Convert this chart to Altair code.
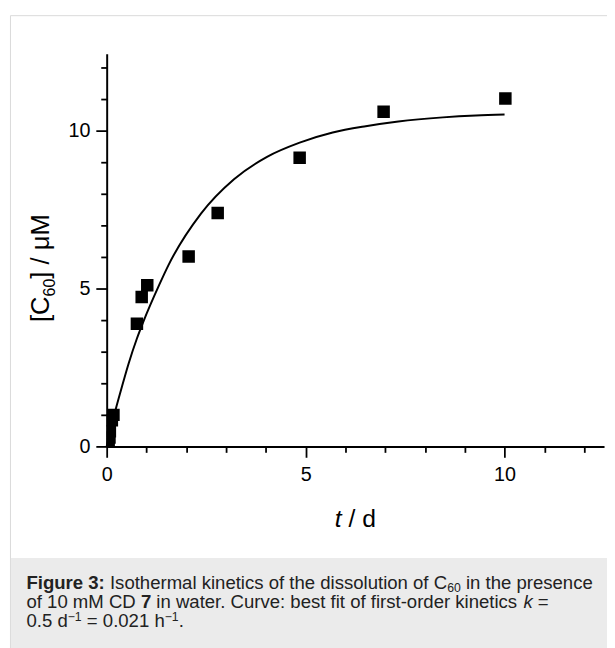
import altair as alt
import pandas as pd

# ---- data ----
t_obs = [0.05, 0.07, 0.08, 0.13, 0.17, 0.76, 0.88, 1.02, 2.06, 2.79, 4.85, 6.96, 10.02]
c_obs = [0.08, 0.28, 0.48, 0.83, 1.00, 3.89, 4.74, 5.11, 6.02, 7.40, 9.15, 10.61, 11.03]

t_fit = [0, 0.18, 0.39, 0.55, 0.76, 0.93, 1.32, 1.55, 2.37, 3.2, 4.03, 4.85, 5.68, 6.51, 7.33, 8.45, 9.28, 10.0]
c_fit = [0, 0.95, 1.92, 2.62, 3.42, 3.98, 5.12, 5.74, 7.38, 8.47, 9.18, 9.63, 9.95, 10.15, 10.30, 10.43, 10.49, 10.52]

x_ticks = list(range(0, 13))
y_ticks = list(range(0, 13))
x_domain = [0, 12.5]
y_domain = [0, 12.45]

FONT = "Liberation Sans"
W, H = 504, 398

obs_df = pd.DataFrame({"t": t_obs, "c": c_obs})
fit_df = pd.DataFrame({"t": t_fit, "c": c_fit})

major = "datum.value % 5 === 0"


def make_axis(vals, pad):
    return alt.Axis(
        values=vals,
        labelExpr=f"{major} ? datum.label : ''",
        tickSize={"condition": {"test": major, "value": 11}, "value": 6},
        tickWidth=1.8,
        tickColor="black",
        domainColor="black",
        domainWidth=2,
        labelFont=FONT,
        labelFontSize=20,
        labelColor="black",
        labelPadding=pad,
        labelFlush=False,
        labelOverlap=False,
        grid=False,
        title=None,
        zindex=1,
    )


x_axis = make_axis(x_ticks, 8)
y_axis = make_axis(y_ticks, 6)
xs = alt.Scale(domain=x_domain, nice=False, zero=False)
ys = alt.Scale(domain=y_domain, nice=False, zero=False)

one = alt.Data(values=[{"k": 1}])

frame = alt.Chart(one).mark_rect(fill="white", stroke="#d9d9d9", strokeWidth=1).encode(
    x=alt.value(-97.5), x2=alt.value(900), y=alt.value(-38.5), y2=alt.value(900)
)
cap_box = alt.Chart(one).mark_rect(fill="#ebebeb").encode(
    x=alt.value(-97), x2=alt.value(900), y=alt.value(511), y2=alt.value(900)
)

line = alt.Chart(fit_df).mark_line(color="black", strokeWidth=2, interpolate="monotone").encode(
    x=alt.X("t:Q", scale=xs, axis=x_axis),
    y=alt.Y("c:Q", scale=ys, axis=y_axis),
)
pts = alt.Chart(obs_df).mark_point(
    shape="square", filled=True, size=160, color="black", opacity=1, clip=True
).encode(
    x=alt.X("t:Q", scale=xs, axis=x_axis),
    y=alt.Y("c:Q", scale=ys, axis=y_axis),
)

# ---- text helpers (Arial-compatible advance widths, per 1000 em) ----
REG = {' ': 278, '.': 278, ':': 278, '-': 333, '=': 584, '/': 278, '\u2212': 584, '[': 278, ']': 278,
       'C': 722, 'D': 722, 'I': 278, 'M': 833, '\u03bc': 576, 'a': 556, 'b': 556, 'c': 500, 'd': 556,
       'e': 556, 'f': 278, 'g': 556, 'h': 556, 'i': 222, 'k': 500, 'l': 222, 'm': 833, 'n': 556,
       'o': 556, 'p': 556, 'r': 333, 's': 500, 't': 278, 'u': 556, 'v': 500, 'w': 722}
BOLD = {'F': 611, 'i': 278, 'g': 611, 'u': 611, 'r': 389, 'e': 556, ' ': 278, ':': 333}


def width(s, size, bold=False):
    tab = BOLD if bold else REG
    return sum(tab.get(ch, 556) for ch in s) * size / 1000.0


def txt(s, x, y, size, weight="normal", style="normal", angle=0, color="#222222"):
    return alt.Chart(one).mark_text(
        text=s, font=FONT, fontSize=size, fontWeight=weight, fontStyle=style,
        align="left", baseline="alphabetic", color=color, angle=angle,
    ).encode(x=alt.value(x), y=alt.value(y))


def run_line(runs, x0, y0, F):
    out = []
    x = x0
    for s, kind in runs:
        size = F * 0.66 if kind in ("sub", "sup") else F
        bold = kind == "bold"
        lead = len(s) - len(s.lstrip(" "))
        body = s.strip(" ")
        xs_ = x + width(" " * lead, size, bold)
        dy = 0.2 * F if kind == "sub" else (-0.32 * F if kind == "sup" else 0)
        if body:
            out.append(txt(body, xs_, y0 + dy, size,
                           weight="bold" if bold else "normal",
                           style="italic" if kind == "ital" else "normal"))
        x += width(s, size, bold)
    return out


F = 18.8
cap_x = -81.3
cap_lines = [
    [("Figure 3:", "bold"), (" Isothermal kinetics of the dissolution of C", "reg"), ("60", "sub"),
     (" in the presence", "reg")],
    [("of 10 mM CD ", "reg"), ("7", "bold"), (" in water. Curve: best fit of first-order kinetics ", "reg"),
     ("k", "ital"), (" =", "reg")],
    [("0.5 d", "reg"), ("\u22121", "sup"), (" = 0.021 h", "reg"), ("\u22121", "sup"), (".", "reg")],
]
cap_base = [542, 561.5, 581]

texts = []
for runs, yb in zip(cap_lines, cap_base):
    texts += run_line(runs, cap_x, yb, F)

# x axis title: italic t / d
TT = 25
xt0 = W / 2 - width("t / d", TT) / 2
texts.append(txt("t", xt0, 480, TT, style="italic", color="black"))
texts.append(txt("/ d", xt0 + width("t ", TT), 480, TT, color="black"))

# y axis title (rotated): [C60] / uM
YT = 26
yt_x, yt_y = -58, 272
seg1 = "[C"
seg2 = "60"
seg3 = "] / \u03bcM"
texts.append(txt(seg1, yt_x, yt_y, YT, angle=270, color="black"))
y2 = yt_y - width(seg1, YT)
texts.append(txt(seg2, yt_x + 0.22 * YT, y2, YT * 0.62, angle=270, color="black"))
y3 = y2 - width(seg2, YT * 0.62)
texts.append(txt(seg3, yt_x, y3, YT, angle=270, color="black"))

chart = alt.layer(frame, cap_box, line, pts, *texts).properties(
    width=W,
    height=H,
    autosize=alt.AutoSizeParams(type="none"),
    padding={"left": 100, "top": 42, "right": 3, "bottom": 200},
    background="white",
).configure_view(stroke=None)

chart.save("out.html", embed_options={"renderer": "svg", "actions": False})
